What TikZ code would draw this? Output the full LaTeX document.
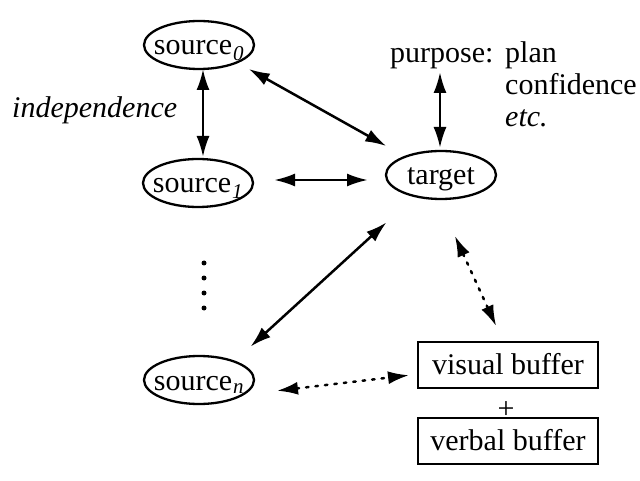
\documentclass[tikz,border=0pt]{standalone}
\usepackage{fontspec}
\setmainfont{Liberation Serif}
\usetikzlibrary{shapes.geometric,arrows.meta}
\begin{document}
\begin{tikzpicture}[x=1pt,y=-1pt,
  every node/.style={font=\fontsize{30}{34}\selectfont, inner sep=0pt},
  oval/.style={ellipse, draw, line width=2.3pt, minimum width=110pt, minimum height=48pt},
  ovaltext/.style={anchor=base},
  buf/.style={rectangle, draw, line width=2pt, minimum width=180pt, minimum height=46pt},
  conn/.style={line width=2.5pt, {Latex[length=21pt,width=13pt]}-{Latex[length=21pt,width=13pt]}, shorten <=2pt, shorten >=2pt},
  dotconn/.style={conn, dash pattern=on 2.5pt off 7pt, line cap=round},
  dotmark/.style={circle, fill, minimum size=5pt}]
\useasboundingbox (0,0) rectangle (640,481);
\node[oval] (s0) at (199,45) {};
\node[ovaltext] (s0t) at (199,55) {source\textsubscript{\kern1pt\itshape 0}};
\node[oval] (s1) at (198,183) {};
\node[ovaltext] (s1t) at (198,193) {source\textsubscript{\kern1pt\itshape 1}};
\node[oval] (sn) at (199,380) {};
\node[ovaltext] (snt) at (199,390) {source\textsubscript{\kern1pt\itshape n}};
\node[oval] (t) at (441,175) {};
\node[ovaltext] (tt) at (441,185) {target};
\node[anchor=base west] (purp) at (390,63) {purpose:};
\node[anchor=base west] (plan) at (505,63) {plan};
\node[anchor=base west] (conf) at (505,95) {confidence};
\node[anchor=base west] (etc) at (505,127) {\itshape etc.};
\node[anchor=base west] (ind) at (12,118) {\itshape independence};
\node[buf] (vb) at (508,365) {};
\node[ovaltext] (vbt) at (508,374) {visual buffer};
\node (plus) at (506,410) {+};
\node[buf] (wb) at (508,441) {};
\node[ovaltext] (wbt) at (508,450) {verbal buffer};
\coordinate (pa) at (440,70);
\coordinate (ta) at (440,150);
\node[dotmark] (d1) at (204,263) {};
\node[dotmark] (d2) at (204,278) {};
\node[dotmark] (d3) at (204,293) {};
\node[dotmark] (d4) at (204,308) {};
\coordinate (a0) at (247,68);
\coordinate (a0t) at (388,147);
\coordinate (a1) at (272,180);
\coordinate (a1t) at (370,180);
\coordinate (an) at (249,348);
\coordinate (ant) at (388,221);
\coordinate (bt) at (454,234);
\coordinate (bv) at (497,328);
\coordinate (cn) at (275,391);
\coordinate (cv) at (411,375);
\coordinate (i0) at (203,67);
\coordinate (i1) at (203,159);
\draw[conn] (pa) -- (ta);
\draw[conn] (i0) -- (i1);
\draw[conn] (a0) -- (a0t);
\draw[conn] (a1) -- (a1t);
\draw[conn] (an) -- (ant);
\draw[dotconn] (bt) -- (bv);
\draw[dotconn] (cn) -- (cv);
\end{tikzpicture}
\end{document}
